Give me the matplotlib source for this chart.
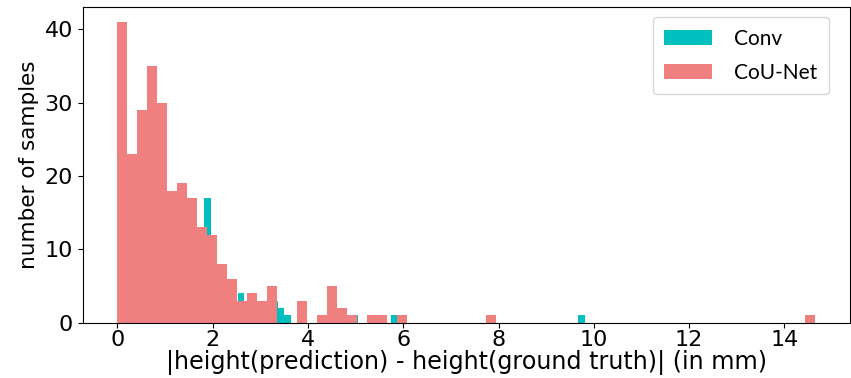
import numpy as np
import matplotlib
matplotlib.use("Agg")
import matplotlib.pyplot as plt

# Histogram counts (70 bins each, from 0 to each series' max error)
n_bins = 70
counet_max = 14.65
conv_max = 9.81

counet_counts = [41, 23, 29, 35, 30, 18, 19, 17, 13, 12,
                 8, 6, 3, 4, 3, 5, 0, 0, 3, 0,
                 1, 5, 2, 1, 0, 1, 1, 0, 1, 0,
                 0, 0, 0, 0, 0, 0, 0, 1, 0, 0,
                 0, 0, 0, 0, 0, 0, 0, 0, 0, 0,
                 0, 0, 0, 0, 0, 0, 0, 0, 0, 0,
                 0, 0, 0, 0, 0, 0, 0, 0, 0, 1]

conv_counts = [26, 18, 19, 22, 22, 20, 18, 15, 14, 11,
               12, 10, 9, 17, 8, 6, 5, 3, 4, 2,
               3, 2, 2, 3, 2, 1, 0, 1, 0, 0,
               1, 0, 2, 1, 0, 1, 0, 0, 1, 0,
               0, 1, 0, 0, 0, 0, 0, 0, 0, 0,
               0, 0, 0, 0, 0, 0, 0, 0, 0, 0,
               0, 0, 0, 0, 0, 0, 0, 0, 0, 1]

conv_edges = np.linspace(0, conv_max, n_bins + 1)
counet_edges = np.linspace(0, counet_max, n_bins + 1)

fig, ax = plt.subplots(figsize=(8.51, 3.78), dpi=100)
fig.subplots_adjust(left=0.097, right=0.999, top=0.982, bottom=0.146)

ax.hist(conv_edges[:-1], bins=conv_edges, weights=conv_counts, color='c', label='Conv')
ax.hist(counet_edges[:-1], bins=counet_edges, weights=counet_counts, color='lightcoral', label='CoU-Net')

ax.set_xticks([0, 2, 4, 6, 8, 10, 12, 14])
ax.set_yticks([0, 10, 20, 30, 40])
ax.tick_params(labelsize=16)
ax.tick_params(axis='x', pad=2)
ax.set_xlabel('|height(prediction) - height(ground truth)| (in mm)', fontsize=17.2, labelpad=0)
ax.set_ylabel('number of samples', fontsize=15.5)

ax.legend(loc='upper left', bbox_to_anchor=(0.743, 0.967), borderaxespad=0,
          prop={'family': 'Lato', 'size': 15},
          handlelength=2.3, handleheight=0.72, handletextpad=1.05,
          borderpad=0.55, labelspacing=0.67)

fig.savefig('out.png', dpi=100)
